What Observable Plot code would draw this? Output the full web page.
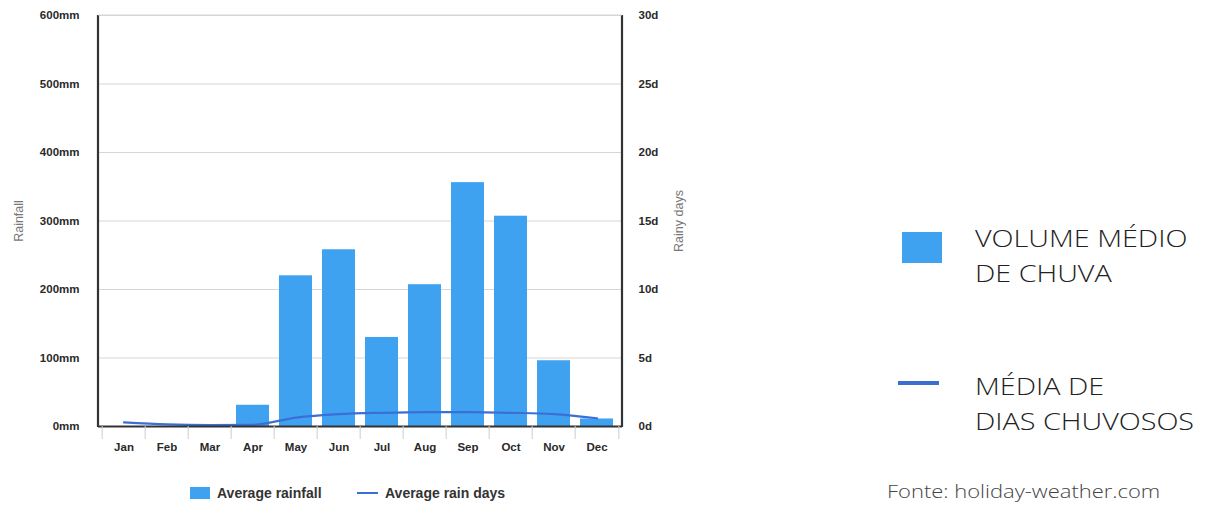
<!DOCTYPE html>
<html>
<head>
<meta charset="utf-8">
<script src="https://cdn.jsdelivr.net/npm/d3@7"></script>
<script src="https://cdn.jsdelivr.net/npm/@observablehq/plot@0.6"></script>
<style>
  html, body { margin: 0; padding: 0; background: #fff; }
  #wrap { position: relative; width: 1214px; height: 505px; overflow: hidden; background: #fff; }
  #chart { position: absolute; left: 0; top: 0; }
  .blg { position: absolute; top: 485px; font-family: "Liberation Sans", Arial, sans-serif; font-weight: bold; font-size: 14px; color: #333; display: flex; align-items: center; }
  .rlg { position: absolute; font-family: "Open Sans", sans-serif; font-weight: 300; font-size: 23px; color: #222; line-height: 35px; white-space: nowrap; transform: scaleX(1.25); transform-origin: left top; }
  .src { position: absolute; left: 887px; top: 479px; font-family: "Open Sans", sans-serif; font-weight: 300; font-size: 18px; line-height: 24px; color: #444; white-space: nowrap; transform: scaleX(1.22); transform-origin: left top; }
</style>
</head>
<body>
<div id="wrap">
  <div id="chart"></div>
  <div class="blg" style="left:190px;"><span style="display:inline-block;width:20px;height:12px;background:#3fa2f1;margin-right:7px;"></span>Average rainfall</div>
  <div class="blg" style="left:357px;"><span style="display:inline-block;width:21px;height:2.5px;background:#3a6fd6;margin-right:7px;"></span>Average rain days</div>
  <div style="position:absolute;left:902px;top:232px;width:40px;height:31px;background:#3fa2f1;"></div>
  <div class="rlg" style="left:975px;top:221px;">VOLUME MÉDIO<br>DE CHUVA</div>
  <div style="position:absolute;left:898px;top:381px;width:41px;height:4px;background:#3a6fd0;"></div>
  <div class="rlg" style="left:975px;top:369px;">MÉDIA DE<br>DIAS CHUVOSOS</div>
  <div class="src">Fonte: holiday-weather.com</div>
</div>
<script>
const months = ["Jan","Feb","Mar","Apr","May","Jun","Jul","Aug","Sep","Oct","Nov","Dec"];
const rainfall = [0, 0, 0, 31, 220, 258, 130, 207, 356, 307, 96, 11];
const rainDays = [0.3, 0.15, 0.1, 0.12, 0.65, 0.9, 1.0, 1.05, 1.05, 1.0, 0.9, 0.6];
const mmTicks = [0, 100, 200, 300, 400, 500, 600];
const dayTicks = [0, 5, 10, 15, 20, 25, 30];
const mmPerDay = 600 / 30;

const data = months.map((m, i) => ({month: m, rain: rainfall[i], days: rainDays[i]}));

const W = 700, H = 460;
const mL = 98, mR = 78, mT = 15, mB = 34;
const step = (W - mL - mR) / months.length;
const font = "Liberation Sans, Arial, sans-serif";

const chart = Plot.plot({
  width: W,
  height: H,
  marginLeft: mL,
  marginRight: mR,
  marginTop: mT,
  marginBottom: mB,
  style: {fontFamily: font, fontSize: "11.5px", color: "#222", background: "#fff"},
  x: {domain: months, paddingInner: 0.24, paddingOuter: 0.12, label: null},
  y: {domain: [0, 600], label: null},
  marks: [
    Plot.ruleY(mmTicks.slice(1), {stroke: "#d6d6d6", strokeWidth: 1}),
    Plot.barY(data, {x: "month", y: "rain", fill: "#3fa2f1"}),
    Plot.lineY(data, {x: "month", y: d => d.days * mmPerDay, stroke: "#3a6fd6", strokeWidth: 2.2, curve: "monotone-x"}),
    Plot.ruleY([0], {stroke: "#333", strokeWidth: 2.2}),
    Plot.axisY({anchor: "left", ticks: mmTicks, tickSize: 0, tickPadding: 19, tickFormat: d => d + "mm", fontWeight: "bold", fill: "#2a2a2a", label: "Rainfall", labelAnchor: "center", labelOffset: 84, labelArrow: "none"}),
    Plot.axisY({anchor: "right", ticks: dayTicks.map(d => d * mmPerDay), tickSize: 0, tickPadding: 16, tickFormat: d => (d / mmPerDay) + "d", fontWeight: "bold", fill: "#2a2a2a", label: "Rainy days", labelAnchor: "center", labelOffset: 60, labelArrow: "none"}),
    Plot.axisX({tickSize: 0, tickPadding: 16, fontWeight: "bold", fill: "#2a2a2a", label: null}),
    Plot.axisX({tickSize: 13, tickFormat: () => "", dx: -step / 2, stroke: "#ccc", label: null}),
    Plot.axisX({ticks: ["Dec"], tickSize: 13, tickFormat: () => "", dx: step / 2, stroke: "#ccc", label: null})
  ]
});

chart.querySelectorAll("[aria-label='y-axis label'] text, [aria-label='y-axis label']").forEach(el => {
  el.setAttribute("fill", "#777");
  el.setAttribute("font-weight", "normal");
  el.setAttribute("font-size", "12.5px");
});
document.getElementById("chart").appendChild(chart);

// left/right frame edges positioned with Plot's own scales
const sx = chart.scale("x"), sy = chart.scale("y");
const svg = d3.select(chart);
const x0 = sx.range[0], x1 = sx.range[1];
const yTop = sy.apply(600), yBot = sy.apply(0);
svg.append("line").attr("x1", x0).attr("x2", x0).attr("y1", yTop).attr("y2", yBot + 1).attr("stroke", "#333").attr("stroke-width", 2.2);
svg.append("line").attr("x1", x1).attr("x2", x1).attr("y1", yTop).attr("y2", yBot + 1).attr("stroke", "#333").attr("stroke-width", 2.2);
svg.append("line").attr("x1", x0).attr("x2", x1).attr("y1", yTop).attr("y2", yTop).attr("stroke", "#d6d6d6");
</script>
</body>
</html>
